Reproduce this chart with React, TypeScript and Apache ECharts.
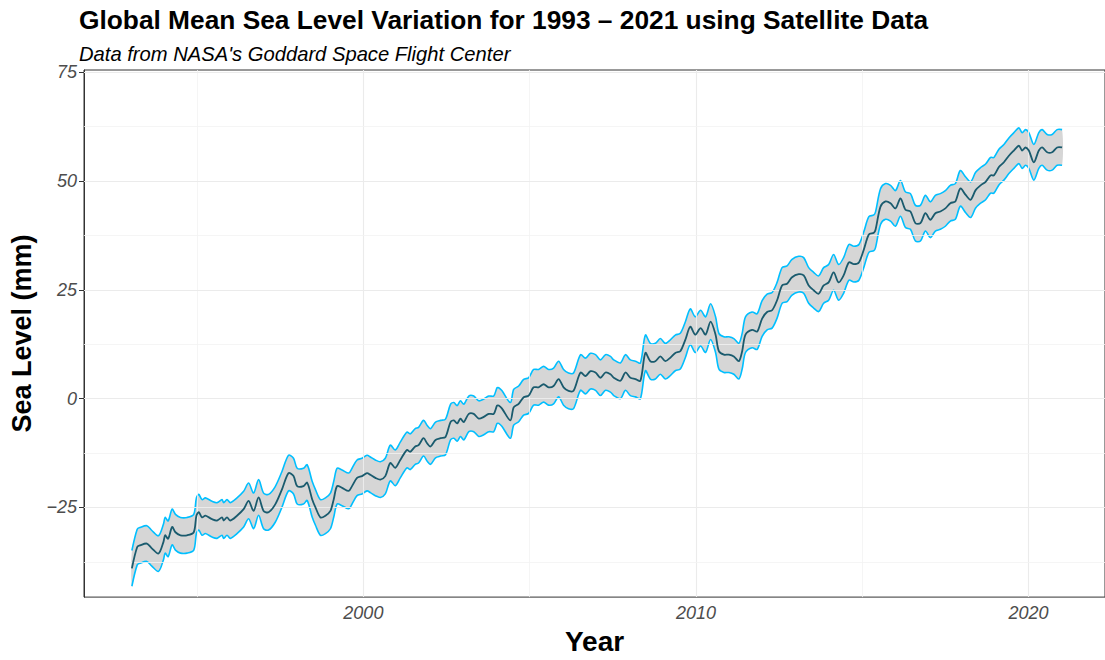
import React, { useEffect, useRef } from "react";
import * as echarts from "echarts";

// Year (decimal) of each sampled point along the smoothed mean
const years: number[] = [
  1993.04, 1993.2, 1993.29, 1993.49, 1993.64, 1993.84, 1993.99, 1994.04, 1994.13, 1994.25,
  1994.35, 1994.5, 1994.7, 1994.9, 1994.98, 1995.05, 1995.15, 1995.25, 1995.45, 1995.6,
  1995.75, 1995.8, 1995.9, 1996.0, 1996.2, 1996.4, 1996.55, 1996.7, 1996.85, 1997.0,
  1997.15, 1997.35, 1997.55, 1997.75, 1997.9, 1998.01, 1998.2, 1998.31, 1998.46, 1998.56,
  1998.71, 1998.86, 1999.01, 1999.11, 1999.21, 1999.36, 1999.56, 1999.66, 1999.81, 1999.96,
  2000.11, 2000.21, 2000.36, 2000.51, 2000.66, 2000.81, 2000.96, 2001.11, 2001.31, 2001.41,
  2001.56, 2001.66, 2001.81, 2001.92, 2002.02, 2002.17, 2002.32, 2002.47, 2002.62, 2002.72,
  2002.82, 2002.92, 2003.02, 2003.17, 2003.32, 2003.47, 2003.62, 2003.77, 2003.92, 2004.02,
  2004.07, 2004.17, 2004.42, 2004.52, 2004.67, 2004.82, 2004.97, 2005.12, 2005.27, 2005.42,
  2005.57, 2005.72, 2005.87, 2006.02, 2006.17, 2006.32, 2006.53, 2006.68, 2006.83, 2006.98,
  2007.13, 2007.28, 2007.43, 2007.53, 2007.73, 2007.88, 2008.03, 2008.18, 2008.33, 2008.48,
  2008.63, 2008.78, 2008.93, 2009.08, 2009.23, 2009.38, 2009.53, 2009.68, 2009.83, 2009.98,
  2010.14, 2010.29, 2010.44, 2010.59, 2010.69, 2010.84, 2010.99, 2011.14, 2011.29, 2011.39,
  2011.49, 2011.69, 2011.84, 2011.99, 2012.14, 2012.29, 2012.44, 2012.59, 2012.74, 2012.89,
  2013.09, 2013.24, 2013.39, 2013.54, 2013.69, 2013.84, 2013.99, 2014.14, 2014.29, 2014.44,
  2014.6, 2014.75, 2014.9, 2015.05, 2015.2, 2015.35, 2015.4, 2015.55, 2015.7, 2015.85,
  2016.0, 2016.15, 2016.3, 2016.45, 2016.6, 2016.75, 2016.9, 2017.05, 2017.2, 2017.35,
  2017.5, 2017.65, 2017.8, 2017.95, 2018.11, 2018.26, 2018.41, 2018.56, 2018.71, 2018.86,
  2018.96, 2019.11, 2019.26, 2019.41, 2019.56, 2019.71, 2019.81, 2019.91, 2020.01, 2020.16,
  2020.31, 2020.41, 2020.56, 2020.71, 2020.86, 2021.01,
];

// Smoothed global mean sea level variation (mm)
const seaLevel: number[] = [
  -39.0, -34.1, -33.7, -33.3, -34.4, -35.6, -32.9, -31.4, -32.2, -29.5,
  -30.7, -31.4, -31.4, -30.7, -26.9, -26.1, -27.3, -26.9, -27.7, -28.0,
  -27.3, -28.0, -27.3, -28.0, -26.9, -25.4, -23.5, -25.8, -22.7, -25.8,
  -26.1, -24.3, -20.9, -17.1, -17.8, -20.1, -20.1, -19.3, -23.1, -25.0,
  -27.3, -26.9, -25.8, -23.1, -20.1, -20.5, -21.2, -20.1, -18.2, -17.8,
  -17.1, -17.5, -18.2, -18.6, -17.8, -14.8, -15.9, -14.1, -11.8, -12.2,
  -11.0, -10.7, -9.1, -10.3, -11.0, -9.5, -9.1, -8.8, -5.4, -5.0,
  -5.7, -4.6, -5.4, -3.5, -3.5, -4.6, -4.2, -3.5, -3.5, -1.6,
  -1.6, -2.3, -5.0, -2.0, -1.2, 0.3, 0.7, 2.6, 2.6, 3.3,
  2.6, 2.9, 4.5, 2.6, 1.8, 1.8, 6.0, 5.2, 6.3, 6.0,
  4.8, 6.0, 5.6, 4.8, 4.1, 6.0, 4.8, 4.5, 4.1, 10.5,
  8.6, 8.6, 9.7, 8.6, 9.4, 10.5, 10.9, 13.5, 16.5, 14.7,
  16.2, 14.7, 17.7, 14.7, 10.9, 10.1, 10.1, 9.7, 8.6, 10.9,
  14.7, 15.8, 15.4, 18.4, 19.9, 20.3, 22.6, 26.0, 26.4, 27.9,
  28.6, 28.3, 26.0, 24.9, 24.1, 26.0, 26.7, 29.0, 26.7, 28.3,
  31.3, 30.9, 31.3, 34.3, 37.7, 38.1, 38.8, 44.1, 45.3, 44.9,
  43.7, 46.0, 43.4, 43.0, 40.3, 40.3, 42.6, 41.1, 42.6, 43.0,
  43.7, 44.9, 45.3, 48.3, 46.8, 45.7, 47.9, 49.0, 49.8, 51.3,
  51.3, 53.2, 54.3, 55.8, 57.0, 58.1, 57.0, 57.7, 57.0, 54.3,
  57.0, 57.7, 56.6, 56.6, 57.7, 57.7,
];

// Half-width of the uncertainty ribbon (mm)
const bandHalfWidth = 4.1;

const xTickLabels: number[] = [2000, 2010, 2020];
const xMinorGrid: number[] = [1995, 2005, 2015];
const yTickLabels: number[] = [-25, 0, 25, 50, 75];
const yMinorGrid: number[] = [-37.5, -12.5, 12.5, 37.5, 62.5];

const TITLE = "Global Mean Sea Level Variation for 1993 \u2013 2021 using Satellite Data";
const SUBTITLE = "Data from NASA's Goddard Space Flight Center";

const SMOOTH = 0.3;

export default function App() {
  const ref = useRef<HTMLDivElement>(null);

  useEffect(() => {
    if (!ref.current) return;
    const chart = echarts.init(ref.current, undefined, { renderer: "svg" });

    const center = years.map((y, i) => [y, seaLevel[i]]);

    const majorGrid = { color: "#EBEBEB", width: 1.1, type: "solid" };
    const minorGrid = { color: "#F3F3F3", width: 0.8, type: "solid" };

    const gridLines: any[] = [
      ...xTickLabels.map((v) => ({ xAxis: v, lineStyle: majorGrid })),
      ...xMinorGrid.map((v) => ({ xAxis: v, lineStyle: minorGrid })),
      ...yTickLabels.map((v) => ({ yAxis: v, lineStyle: majorGrid })),
      ...yMinorGrid.map((v) => ({ yAxis: v, lineStyle: minorGrid })),
    ];

    const fontFamily = "'Liberation Sans', Arial, Helvetica, sans-serif";

    const renderBand = (params: any, api: any) => {
      if (params.dataIndex !== 0) return null;
      const up = years.map((y, i) => api.coord([y, seaLevel[i] + bandHalfWidth]));
      const lo = years.map((y, i) => api.coord([y, seaLevel[i] - bandHalfWidth]));
      return {
        type: "group",
        children: [
          {
            type: "polygon",
            shape: { points: up.concat(lo.slice().reverse()), smooth: SMOOTH },
            style: { fill: "#D6D6D6", stroke: "none" },
          },
          {
            type: "polyline",
            shape: { points: up, smooth: SMOOTH },
            style: { stroke: "#00BFFF", lineWidth: 1.6, fill: "none" },
          },
          {
            type: "polyline",
            shape: { points: lo, smooth: SMOOTH },
            style: { stroke: "#00BFFF", lineWidth: 1.6, fill: "none" },
          },
        ],
      };
    };

    const renderCenter = (params: any, api: any) => {
      if (params.dataIndex !== 0) return null;
      const pts = years.map((y, i) => api.coord([y, seaLevel[i]]));
      return {
        type: "polyline",
        shape: { points: pts, smooth: SMOOTH },
        style: { stroke: "#1A5B6E", lineWidth: 1.8, fill: "none" },
      };
    };

    chart.setOption({
      animation: false,
      backgroundColor: "#FFFFFF",
      textStyle: { fontFamily },
      title: [
        {
          text: TITLE,
          left: 74,
          top: 0,
          textStyle: { fontSize: 26.3, fontWeight: "bold", color: "#000", fontFamily, lineHeight: 30 },
        },
        {
          text: SUBTITLE,
          left: 74,
          top: 37,
          textStyle: { fontSize: 20.2, fontStyle: "italic", fontWeight: "normal", color: "#000", fontFamily, lineHeight: 24 },
        },
      ],
      grid: {
        left: 84,
        top: 70,
        right: -2,
        height: 534,
        containLabel: false,
        show: true,
        borderColor: "#333333",
        borderWidth: 1,
        backgroundColor: "transparent",
      },
      xAxis: {
        type: "value",
        min: 1991.6,
        max: 2022.3,
        name: "Year",
        nameLocation: "middle",
        nameGap: 27,
        nameTextStyle: { fontSize: 28, fontWeight: "bold", color: "#000", fontFamily },
        splitLine: { show: false },
        axisLine: { show: true, lineStyle: { color: "#333333", width: 1 } },
        axisTick: { show: true, customValues: xTickLabels, length: 5, lineStyle: { color: "#333333" } },
        axisLabel: {
          customValues: xTickLabels,
          formatter: (v: number) => String(v),
          fontSize: 18,
          fontStyle: "italic",
          color: "#4D4D4D",
          margin: 7,
          fontFamily,
        },
      },
      yAxis: {
        type: "value",
        min: -45.6,
        max: 75.5,
        name: "Sea Level (mm)",
        nameLocation: "middle",
        nameGap: 35,
        nameTextStyle: { fontSize: 27, fontWeight: "bold", color: "#000", fontFamily },
        splitLine: { show: false },
        axisLine: { show: true, lineStyle: { color: "#333333", width: 1 } },
        axisTick: { show: true, customValues: yTickLabels, length: 5, lineStyle: { color: "#333333" } },
        axisLabel: {
          customValues: yTickLabels,
          formatter: (v: number) => (v < 0 ? "\u2212" + Math.abs(v) : String(v)),
          fontSize: 18,
          fontStyle: "italic",
          color: "#4D4D4D",
          margin: 7,
          fontFamily,
        },
      },
      series: [
        {
          name: "grid",
          type: "line",
          data: center,
          symbol: "none",
          lineStyle: { opacity: 0 },
          silent: true,
          z: 1,
          markLine: {
            silent: true,
            symbol: "none",
            label: { show: false },
            data: gridLines,
          },
        },
        {
          name: "band",
          type: "custom",
          data: center,
          encode: { x: 0, y: 1 },
          renderItem: renderBand,
          silent: true,
          z: 3,
        },
        {
          name: "Sea Level",
          type: "custom",
          data: center,
          encode: { x: 0, y: 1 },
          renderItem: renderCenter,
          silent: true,
          z: 5,
        },
      ],
    });

    return () => chart.dispose();
  }, []);

  return (
    <div
      ref={ref}
      style={{ position: "fixed", left: 0, top: 0, width: 1105, height: 660, background: "#fff" }}
    />
  );
}
